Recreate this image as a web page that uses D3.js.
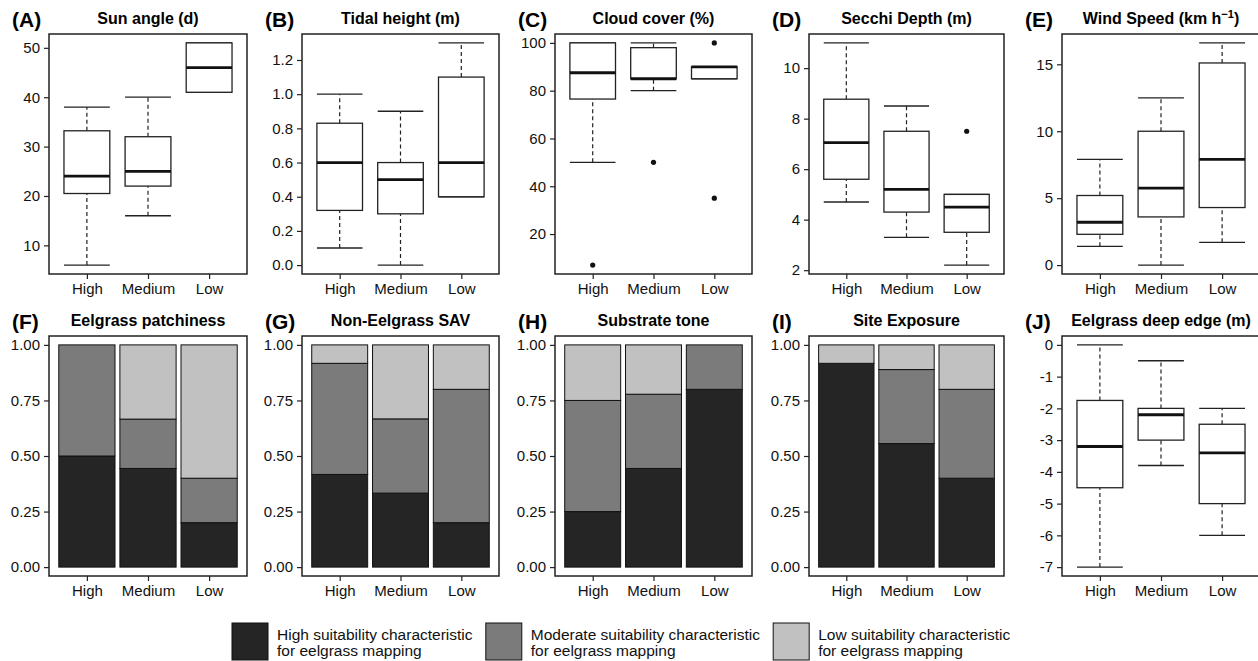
<!DOCTYPE html>
<html>
<head>
<meta charset="utf-8">
<script src="https://cdn.jsdelivr.net/npm/d3@7"></script>
<style>
  body { margin: 0; background: #fff; }
  svg { font-family: "Liberation Sans", Arial, sans-serif; }
</style>
</head>
<body>
<div id="viz"></div>
<script>
// categories on the x axis of every panel
var groups = ["High", "Medium", "Low"];

// box stats per group: [lower whisker, Q1, median, Q3, upper whisker]
var sunAngle    = [[6, 20.5, 24, 33.2, 38], [16, 22, 25, 32, 40], [41, 41, 46, 51, 51]];
var tidalHeight = [[0.1, 0.32, 0.6, 0.83, 1.0], [0, 0.3, 0.5, 0.6, 0.9], [0.4, 0.4, 0.6, 1.1, 1.3]];
var cloudCover  = [[50, 76.5, 87.5, 100, 100], [80, 85, 85, 98, 100], [85, 85, 90, 90, 90]];
var secchiDepth = [[4.7, 5.6, 7.05, 8.77, 11], [3.3, 4.3, 5.2, 7.5, 8.5], [2.2, 3.5, 4.5, 5, 5]];
var windSpeed   = [[1.4, 2.3, 3.2, 5.2, 7.9], [0, 3.6, 5.75, 10, 12.5], [1.7, 4.3, 7.9, 15.1, 16.6]];
var deepEdge    = [[-7, -4.5, -3.2, -1.75, 0], [-3.8, -3, -2.2, -2, -0.5], [-6, -5, -3.4, -2.5, -2]];

// outlier points per group
var noOut     = [[], [], []];
var cloudOut  = [[7], [50], [100, 35]];
var secchiOut = [[], [], [7.5]];

// y tick values
var sunTicks    = [10, 20, 30, 40, 50];
var tidalTicks  = [0, 0.2, 0.4, 0.6, 0.8, 1.0, 1.2];
var cloudTicks  = [20, 40, 60, 80, 100];
var secchiTicks = [2, 4, 6, 8, 10];
var windTicks   = [0, 5, 10, 15];
var deepTicks   = [0, -1, -2, -3, -4, -5, -6, -7];
var propTicks   = [0, 0.25, 0.5, 0.75, 1];

// proportions per group: [high, moderate, low suitability]
var patchiness = [[0.5, 0.5, 0], [0.444, 0.222, 0.334], [0.2, 0.2, 0.6]];
var nonEelSAV  = [[0.417, 0.5, 0.083], [0.333, 0.334, 0.333], [0.2, 0.6, 0.2]];
var substrate  = [[0.25, 0.5, 0.25], [0.444, 0.334, 0.222], [0.8, 0.2, 0]];
var exposure   = [[0.917, 0, 0.083], [0.556, 0.333, 0.111], [0.4, 0.4, 0.2]];

var suitKeys   = ["high", "moderate", "low"];
var suitColors = ["#252525", "#7b7b7b", "#c1c1c1"];
var legendLines = [
  ["High suitability characteristic", "for eelgrass mapping"],
  ["Moderate suitability characteristic", "for eelgrass mapping"],
  ["Low suitability characteristic", "for eelgrass mapping"]
];

// page and panel layout
var W = 1258, H = 661;
var colLeft  = [49, 302, 555, 809, 1062];
var colRight = [247, 499, 752, 1004, 1260];
var rowTop = [34, 336], rowBottom = [274, 576];

var svg = d3.select("#viz").append("svg")
  .attr("width", W).attr("height", H);

function xScale(col) {
  return d3.scaleLinear().domain([0.38, 3.62]).range([colLeft[col], colRight[col]]);
}

function frameAndAxes(col, row, label, title, y, ticks, fmt) {
  var x = xScale(col);
  var g = svg.append("g");

  // y axis
  var ya = g.append("g")
    .attr("transform", "translate(" + colLeft[col] + ",0)")
    .call(d3.axisLeft(y).tickValues(ticks).tickFormat(fmt).tickSize(5).tickPadding(4));
  ya.select(".domain").remove();
  ya.selectAll("text").style("font-size", "15px").attr("fill", "#111");
  ya.selectAll("line").attr("stroke", "#222").attr("stroke-width", 1.2);

  // x axis
  var xa = g.append("g")
    .attr("transform", "translate(0," + rowBottom[row] + ")")
    .call(d3.axisBottom(x).tickValues([1, 2, 3]).tickFormat(function(d) { return groups[d - 1]; })
      .tickSize(5).tickPadding(4));
  xa.select(".domain").remove();
  xa.selectAll("text").style("font-size", "15px").attr("fill", "#111");
  xa.selectAll("line").attr("stroke", "#222").attr("stroke-width", 1.2);

  // frame
  g.append("rect")
    .attr("x", colLeft[col]).attr("y", rowTop[row])
    .attr("width", colRight[col] - colLeft[col])
    .attr("height", rowBottom[row] - rowTop[row])
    .attr("fill", "none").attr("stroke", "#222").attr("stroke-width", 1.5);

  // panel letter and title
  g.append("text")
    .attr("x", colLeft[col] - 37).attr("y", rowTop[row] - 7)
    .style("font-size", "21px").style("font-weight", "bold")
    .text(label);
  var t = g.append("text")
    .attr("x", (colLeft[col] + colRight[col]) / 2).attr("y", rowTop[row] - 10)
    .attr("text-anchor", "middle")
    .style("font-size", "16px").style("font-weight", "bold");
  if (Array.isArray(title)) {
    t.append("tspan").text(title[0]);
    t.append("tspan").attr("dy", -6).style("font-size", "11px").text(title[1]);
    t.append("tspan").attr("dy", 6).text(title[2]);
  } else {
    t.text(title);
  }
  return x;
}

function boxPanel(col, row, label, title, stats, outs, ticks, fmt) {
  var all = d3.merge(stats.concat(outs));
  var lo = d3.min(all), hi = d3.max(all), pad = (hi - lo) * 0.04;
  var y = d3.scaleLinear().domain([lo - pad, hi + pad]).range([rowBottom[row], rowTop[row]]);
  var x = frameAndAxes(col, row, label, title, y, ticks, fmt);
  var hw = 0.375;

  var g = svg.append("g").selectAll("g").data(stats).enter().append("g");

  // dashed whiskers
  g.append("line")
    .attr("x1", function(d, i) { return x(i + 1); }).attr("x2", function(d, i) { return x(i + 1); })
    .attr("y1", function(d) { return y(d[0]); }).attr("y2", function(d) { return y(d[1]); })
    .attr("stroke", "#222").attr("stroke-width", 1.2).attr("stroke-dasharray", "4,3");
  g.append("line")
    .attr("x1", function(d, i) { return x(i + 1); }).attr("x2", function(d, i) { return x(i + 1); })
    .attr("y1", function(d) { return y(d[3]); }).attr("y2", function(d) { return y(d[4]); })
    .attr("stroke", "#222").attr("stroke-width", 1.2).attr("stroke-dasharray", "4,3");

  // staples
  [0, 4].forEach(function(k) {
    g.append("line")
      .attr("x1", function(d, i) { return x(i + 1 - hw); }).attr("x2", function(d, i) { return x(i + 1 + hw); })
      .attr("y1", function(d) { return y(d[k]); }).attr("y2", function(d) { return y(d[k]); })
      .attr("stroke", "#222").attr("stroke-width", 1.3);
  });

  // box
  g.append("rect")
    .attr("x", function(d, i) { return x(i + 1 - hw); })
    .attr("width", function(d, i) { return x(i + 1 + hw) - x(i + 1 - hw); })
    .attr("y", function(d) { return y(d[3]); })
    .attr("height", function(d) { return y(d[1]) - y(d[3]); })
    .attr("fill", "#fff").attr("stroke", "#222").attr("stroke-width", 1.3);

  // median
  g.append("line")
    .attr("x1", function(d, i) { return x(i + 1 - hw); }).attr("x2", function(d, i) { return x(i + 1 + hw); })
    .attr("y1", function(d) { return y(d[2]); }).attr("y2", function(d) { return y(d[2]); })
    .attr("stroke", "#111").attr("stroke-width", 2.8);

  // outliers
  outs.forEach(function(o, i) {
    svg.selectAll(null).data(o).enter().append("circle")
      .attr("cx", x(i + 1)).attr("cy", function(d) { return y(d); })
      .attr("r", 2.6).attr("fill", "#111");
  });
}

function barPanel(col, row, label, title, props) {
  var y = d3.scaleLinear().domain([-0.04, 1.04]).range([rowBottom[row], rowTop[row]]);
  var x = frameAndAxes(col, row, label, title, y, propTicks, d3.format(".2f"));
  var bw = 0.92;

  var rows = props.map(function(p, i) {
    return { idx: i + 1, high: p[0], moderate: p[1], low: p[2] };
  });
  var stacked = d3.stack().keys(suitKeys)(rows);
  var color = d3.scaleOrdinal().domain(suitKeys).range(suitColors);

  svg.append("g").selectAll("g").data(stacked).enter().append("g")
    .attr("fill", function(d) { return color(d.key); })
    .selectAll("rect").data(function(d) { return d; }).enter().append("rect")
      .attr("x", function(d) { return x(d.data.idx - bw / 2); })
      .attr("width", function(d) { return x(d.data.idx + bw / 2) - x(d.data.idx - bw / 2); })
      .attr("y", function(d) { return y(d[1]); })
      .attr("height", function(d) { return y(d[0]) - y(d[1]); })
      .attr("stroke", "#111").attr("stroke-width", 1);
}

boxPanel(0, 0, "(A)", "Sun angle (d)", sunAngle, noOut, sunTicks, d3.format("d"));
boxPanel(1, 0, "(B)", "Tidal height (m)", tidalHeight, noOut, tidalTicks, d3.format(".1f"));
boxPanel(2, 0, "(C)", "Cloud cover (%)", cloudCover, cloudOut, cloudTicks, d3.format("d"));
boxPanel(3, 0, "(D)", "Secchi Depth (m)", secchiDepth, secchiOut, secchiTicks, d3.format("d"));
boxPanel(4, 0, "(E)", ["Wind Speed (km h", "\u22121", ")"], windSpeed, noOut, windTicks, d3.format("d"));

barPanel(0, 1, "(F)", "Eelgrass patchiness", patchiness);
barPanel(1, 1, "(G)", "Non-Eelgrass SAV", nonEelSAV);
barPanel(2, 1, "(H)", "Substrate tone", substrate);
barPanel(3, 1, "(I)", "Site Exposure", exposure);
boxPanel(4, 1, "(J)", "Eelgrass deep edge (m)", deepEdge, noOut, deepTicks, function(d) { return String(d); });

// legend - each item placed after the previous item's widest text line
var lx = 232;
legendLines.forEach(function(lines, i) {
  var lg = svg.append("g");
  lg.append("rect")
    .attr("x", lx).attr("y", 623).attr("width", 36).attr("height", 37)
    .attr("fill", suitColors[i]).attr("stroke", "#111").attr("stroke-width", 1);
  var t = lg.append("text").attr("x", lx + 45).attr("y", 640)
    .style("font-size", "15.5px").attr("fill", "#111");
  t.append("tspan").attr("x", lx + 45).text(lines[0]);
  t.append("tspan").attr("x", lx + 45).attr("dy", 16).text(lines[1]);
  lx = lx + 45 + t.node().getBBox().width + 13;
});
</script>
</body>
</html>
